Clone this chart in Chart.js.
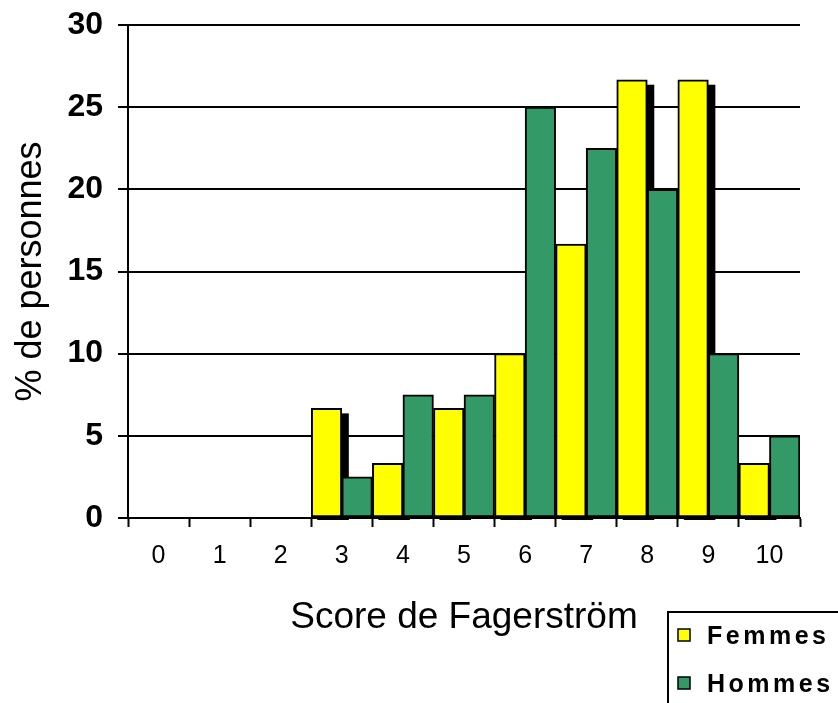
<!DOCTYPE html>
<html>
<head>
<meta charset="utf-8">
<script src="https://cdn.jsdelivr.net/npm/chart.js@4/dist/chart.umd.min.js"></script>
<style>
  html, body { margin: 0; padding: 0; background: #ffffff; }
  #wrap { width: 838px; height: 703px; position: relative; }
</style>
</head>
<body>
<div id="wrap"><canvas id="c" width="838" height="703"></canvas></div>
<script>
const categories = ['0', '1', '2', '3', '4', '5', '6', '7', '8', '9', '10'];
const femmes = [0, 0, 0, 6.67, 3.33, 6.67, 10, 16.67, 26.67, 26.67, 3.33];
const hommes = [0, 0, 0, 2.5, 7.5, 7.5, 25, 22.5, 20, 10, 5];
const seriesNames = ['Femmes', 'Hommes'];
const yMin = 0, yMax = 30, yStep = 5;
const xTitle = 'Score de Fagerström';
const yTitle = '% de personnes';

const FONT = '"Liberation Sans", Arial, sans-serif';

const shadowPlugin = {
  id: 'barShadow',
  beforeDatasetsDraw(chart) {
    const ctx = chart.ctx;
    const meta = chart.getDatasetMeta(0);
    ctx.save();
    ctx.fillStyle = '#000000';
    meta.data.forEach(el => {
      const p = el.getProps(['x', 'y', 'base', 'width'], true);
      const h = p.base - p.y;
      if (h <= 0) return;
      ctx.fillRect(p.x - p.width / 2 + 6, p.y + 5, p.width + 1, h - 2);
    });
    ctx.restore();
  }
};

const legendPlugin = {
  id: 'boxLegend',
  afterDraw(chart) {
    const ctx = chart.ctx;
    const left = 668, top = 612;
    ctx.save();
    ctx.strokeStyle = '#000000';
    ctx.lineWidth = 2;
    ctx.beginPath();
    ctx.moveTo(left, 720);
    ctx.lineTo(left, top);
    ctx.lineTo(850, top);
    ctx.stroke();
    chart.data.datasets.forEach((ds, i) => {
      const cy = 635 + i * 48;
      ctx.fillStyle = ds.backgroundColor;
      ctx.fillRect(678, cy - 6, 12, 12);
      ctx.lineWidth = 1.5;
      ctx.strokeStyle = '#000000';
      ctx.strokeRect(678, cy - 6, 12, 12);
      ctx.fillStyle = '#000000';
      ctx.font = 'bold 25px ' + FONT;
      ctx.textBaseline = 'middle';
      ctx.textAlign = 'left';
      if ('letterSpacing' in ctx) ctx.letterSpacing = '3.5px';
      ctx.fillText(ds.label, 707, cy + 2);
      if ('letterSpacing' in ctx) ctx.letterSpacing = '0px';
    });
    ctx.restore();
  }
};

new Chart(document.getElementById('c'), {
  type: 'bar',
  data: {
    labels: categories,
    datasets: [
      {
        label: seriesNames[0],
        data: femmes,
        backgroundColor: '#FFFF00',
        borderColor: '#000000',
        borderWidth: 2,
        borderSkipped: false,
        categoryPercentage: 1,
        barPercentage: 1
      },
      {
        label: seriesNames[1],
        data: hommes,
        backgroundColor: '#339966',
        borderColor: '#000000',
        borderWidth: 2,
        borderSkipped: false,
        categoryPercentage: 1,
        barPercentage: 1
      }
    ]
  },
  options: {
    responsive: false,
    animation: false,
    devicePixelRatio: 1,
    layout: { padding: { top: 25, right: 38, left: 0, bottom: 0 } },
    plugins: {
      legend: { display: false },
      tooltip: { enabled: false }
    },
    scales: {
      x: {
        offset: true,
        grid: {
          display: true,
          offset: true,
          drawOnChartArea: false,
          drawTicks: true,
          tickLength: 9,
          tickColor: '#000000',
          tickWidth: 2
        },
        border: { display: true, color: '#000000', width: 2 },
        ticks: {
          color: '#000000',
          padding: 14,
          maxRotation: 0,
          font: { family: FONT, size: 25 }
        },
        title: {
          display: true,
          text: xTitle,
          color: '#000000',
          font: { family: FONT, size: 37 },
          padding: { top: 0, bottom: 63 }
        },
        afterFit(scale) {
          scale.height = 185;
          scale.paddingLeft = 0;
          scale.paddingRight = 0;
        }
      },
      y: {
        min: yMin,
        max: yMax,
        ticks: {
          stepSize: yStep,
          color: '#000000',
          padding: 15,
          font: { family: FONT, size: 32, weight: 'bold' }
        },
        grid: {
          color: '#000000',
          lineWidth: 2,
          drawTicks: true,
          tickLength: 10,
          tickColor: '#000000',
          tickWidth: 2
        },
        border: { display: true, color: '#000000', width: 2 },
        title: {
          display: true,
          text: yTitle,
          color: '#000000',
          font: { family: FONT, size: 36 },
          padding: { top: 9, bottom: 0 }
        },
        afterFit(scale) {
          scale.width = 128;
          scale.paddingTop = 0;
          scale.paddingBottom = 0;
        }
      }
    }
  },
  plugins: [shadowPlugin, legendPlugin]
});
</script>
</body>
</html>
